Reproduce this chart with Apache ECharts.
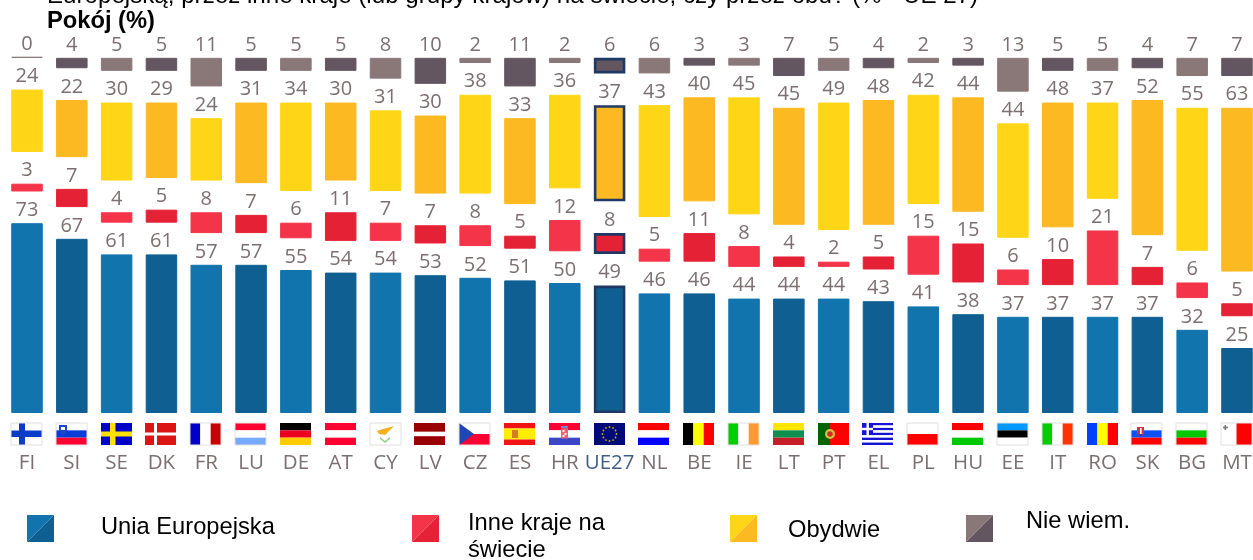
<!DOCTYPE html>
<html><head><meta charset="utf-8">
<style>html,body{margin:0;padding:0;background:#fff;overflow:hidden}#w{width:1253px;height:560px;overflow:hidden}#c{width:1270px;height:560px}</style>
<script src="https://cdn.jsdelivr.net/npm/echarts@6/dist/echarts.min.js"></script>
</head><body><div id="w"><div id="c"></div></div>
<script>
const categories = ['FI','SI','SE','DK','FR','LU','DE','AT','CY','LV','CZ','ES','HR','UE27','NL','BE','IE','LT','PT','EL','PL','HU','EE','IT','RO','SK','BG','MT'];
const uniaEuropejska = [73,67,61,61,57,57,55,54,54,53,52,51,50,49,46,46,44,44,44,43,41,38,37,37,37,37,32,25];
const inneKraje = [3,7,4,5,8,7,6,11,7,7,8,5,12,8,5,11,8,4,2,5,15,15,6,10,21,7,6,5];
const obydwie = [24,22,30,29,24,31,34,30,31,30,38,33,36,37,43,40,45,45,49,48,42,44,44,48,37,52,55,63];
const nieWiem = [0,4,5,5,11,5,5,5,8,10,2,11,2,6,6,3,3,7,5,4,2,3,13,5,5,4,7,7];
const highlighted = 'UE27';
const gapUnits = 12.2;

const topLine = 'Europejską, przez inne kraje (lub grupy krajów) na świecie, czy przez obu? (% - UE 27)';
const chartTitle = 'Pokój (%)';

const palette = {
  blue: ['#1174ad', '#0f5f92'],
  red: ['#f43449', '#e52135'],
  yellow: ['#ffd617', '#fcb922'],
  grey: ['#8a7879', '#635660']
};
const labelColor = '#7b6f71';
const navy = '#1f3864';

function hs(cols, ws) { // horizontal stripes
  const t = (ws || cols.map(() => 1)); const sum = t.reduce((a, b) => a + b, 0); let y = 0;
  return cols.map((c, i) => { const h = 22 * t[i] / sum; const r = ['r', 0, y, 31, h, c]; y += h; return r; });
}
function vs(cols, ws) { // vertical stripes
  const t = (ws || cols.map(() => 1)); const sum = t.reduce((a, b) => a + b, 0); let x = 0;
  return cols.map((c, i) => { const w = 31 * t[i] / sum; const r = ['r', x, 0, w, 22, c]; x += w; return r; });
}
const euStars = Array.from({length: 12}, (_, i) => ['c', 15.5 + 7 * Math.cos(i * Math.PI / 6), 11 + 7 * Math.sin(i * Math.PI / 6), 0.9, '#c8b400']);
const flagShapes = {
  FI: [['r',0,0,31,22,'#fff'],['r',8,0,6,22,'#0a3cc8'],['r',0,7.5,31,6.5,'#0a3cc8']],
  SI: hs(['#fff','#0a3cd8','#ff0033']).concat([['p',[[3,2],[11,2],[11,8],[7,12],[3,8]],'#1e46c8'],['r',5,4,4,3,'#fff']]),
  SE: [['r',0,0,31,22,'#0000c8'],['r',9,0,5.5,22,'#ffe000'],['r',0,8.5,31,5,'#ffe000']],
  DK: [['r',0,0,31,22,'#dc1414'],['r',9,0,3,22,'#fff'],['r',0,9.5,31,3,'#fff']],
  FR: vs(['#0000c8','#fff','#c80000']),
  LU: hs(['#ff0033','#fff','#77aaff']),
  DE: hs(['#000','#e8001e','#ffcc00']),
  AT: hs(['#ff0033','#fff','#ff0033']),
  CY: [['r',0,0,31,22,'#fff'],['p',[[7,8],[13,6],[24,3],[19,8],[15,12],[9,11]],'#f5b01e'],['p',[[10,14],[15,18],[20,14],[20,16],[15,20],[10,16]],'#8fd08f']],
  LV: hs(['#990000','#fff','#990000'],[2,1,2]),
  CZ: hs(['#fff','#ff0033']).concat([['p',[[0,0],[15,11],[0,22]],'#1e46b4']]),
  ES: hs(['#f01414','#ffee00','#f01414'],[1,2,1]).concat([['r',8,7,6,8,'#d87a28']]),
  HR: hs(['#ff0033','#fff','#3c46c8']).concat([['r',12,3,7,2.5,'#7a84c8'],['r',12,5.5,7,10,'#f06070'],['r',13.5,7,2,2,'#fff'],['r',15.5,10,2,2,'#fff'],['r',13.5,12,2,2,'#fff']]),
  UE27: [['r',0,0,31,22,'#000a78']].concat(euStars),
  NL: hs(['#ff0000','#fff','#0000ff']),
  BE: vs(['#000','#ffff00','#ff0000']),
  IE: vs(['#00cc00','#fff','#ff9933']),
  LT: hs(['#ffe600','#109050','#c81e28']),
  PT: [['r',0,0,31,22,'#ff0000'],['r',0,0,12,22,'#006400'],['c',12,11,5,'#d8c040'],['c',12,11,2.8,'#c83030']],
  EL: hs(['#1414d2','#fff','#1414d2','#fff','#1414d2','#fff','#1414d2','#fff','#1414d2']).concat([['r',0,0,11,12,'#1414d2'],['r',4.5,0,2.4,12,'#fff'],['r',0,4.8,11,2.4,'#fff']]),
  PL: hs(['#fff','#ff0000']),
  HU: hs(['#ff0000','#fff','#00c800']),
  EE: hs(['#0099ff','#000','#fff']),
  IT: vs(['#00cc00','#fff','#ff3300']),
  RO: vs(['#0040ff','#ffff00','#ff0000']),
  SK: hs(['#fff','#0a50ff','#ff0000']).concat([['p',[[6,4],[13,4],[13,11],[9.5,15],[6,11]],'#d8304a'],['p',[[7,11],[12,11],[9.5,14.5]],'#2040c0'],['r',9,5,1.6,6,'#fff']]),
  BG: hs(['#fff','#00c800','#ff0000']),
  MT: [['r',0,0,31,22,'#fff'],['r',15.5,0,15.5,22,'#ff0000'],['r',3.5,2,1.6,5,'#777'],['r',2,3.7,5,1.6,'#777']]
};
const whiteEdged = ['FI','SI','FR','CY','CZ','PL','EE','IT','SK','BG','MT','IE','LU'];

function barData(values, colors) {
  return values.map((v, i) => {
    const fill = colors[i % 2];
    const hl = categories[i] === highlighted;
    return {
      value: v,
      itemStyle: {
        color: fill,
        borderColor: hl ? navy : fill,
        borderWidth: hl ? 2.6 : 1,
        opacity: 1
      }
    };
  });
}
function part(name, values, colors) {
  return {
    name, type: 'bar', stack: 'total', barWidth: 31.5, barMinHeight: 1,
    data: barData(values, colors),
    label: { show: true, position: 'top', distance: 3, color: labelColor, fontFamily: 'Open Sans', fontSize: 20 }
  };
}
function spacer() {
  return {
    name: 'odstęp', type: 'bar', stack: 'total', barWidth: 31.5, silent: true,
    data: categories.map(() => gapUnits), itemStyle: { color: 'transparent' }, label: { show: false }
  };
}
const flagSeries = {
  type: 'custom', name: 'flagi', silent: true, clip: false,
  data: categories.map((c, i) => [i, 0]),
  encode: { x: 0, y: 1 },
  renderItem(params, api) {
    const p = api.coord([api.value(0), 0]);
    const code = categories[api.value(0)];
    const children = (flagShapes[code] || []).map(s => {
      if (s[0] === 'r') return { type: 'rect', shape: { x: s[1], y: s[2], width: s[3], height: s[4] }, style: { fill: s[5] } };
      if (s[0] === 'c') return { type: 'circle', shape: { cx: s[1], cy: s[2], r: s[3] }, style: { fill: s[4] } };
      return { type: 'polygon', shape: { points: s[1] }, style: { fill: s[2] } };
    });
    if (whiteEdged.includes(code)) children.push({ type: 'rect', shape: { x: 0, y: 0, width: 31, height: 22 }, style: { fill: 'none', stroke: '#e4dede', lineWidth: 1 } });
    return { type: 'group', x: Math.round(p[0]) - 16, y: p[1] + 10, children };
  }
};

function swatch(x, colors) {
  const y = 515, s = 27;
  return [
    { type: 'polygon', silent: true, shape: { points: [[x, y], [x + s, y], [x, y + s]] }, style: { fill: colors[0] } },
    { type: 'polygon', silent: true, shape: { points: [[x + s, y], [x + s, y + s], [x, y + s]] }, style: { fill: colors[1] } }
  ];
}
function legendText(text, x, y) {
  return { type: 'text', silent: true, x, y, style: { text, fill: '#000', fontFamily: 'Liberation Sans', fontSize: 23.7, verticalAlign: 'middle', lineHeight: 27 } };
}

const chart = echarts.init(document.getElementById('c'), null, { renderer: 'canvas' });
chart.setOption({
  animation: false,
  backgroundColor: '#fff',
  grid: { left: 4.6, top: 49, width: 1254.8, height: 364, containLabel: false },
  xAxis: {
    type: 'category', data: categories,
    axisLine: { show: false }, axisTick: { show: false }, splitLine: { show: false },
    axisLabel: {
      interval: 0, margin: 40, fontFamily: 'Open Sans', fontSize: 20.5,
      color: (v) => v === highlighted ? '#3f5f86' : labelColor
    }
  },
  yAxis: { type: 'value', min: 0, max: 140, show: false },
  series: [
    part('Unia Europejska', uniaEuropejska, palette.blue), spacer(),
    part('Inne kraje na świecie', inneKraje, palette.red), spacer(),
    part('Obydwie', obydwie, palette.yellow), spacer(),
    part('Nie wiem.', nieWiem, palette.grey),
    flagSeries
  ],
  graphic: [
    { type: 'text', silent: true, x: 47, y: -4, style: { text: topLine, fill: '#000', fontFamily: 'Liberation Sans', fontSize: 24.15, verticalAlign: 'middle' } },
    { type: 'text', silent: true, x: 47, y: 21, style: { text: chartTitle, fill: '#000', fontFamily: 'Liberation Sans', fontWeight: 'bold', fontSize: 23.7, verticalAlign: 'middle' } },
    ...swatch(27, palette.blue), legendText('Unia Europejska', 101, 527),
    ...swatch(412, palette.red), legendText('Inne kraje na\nświecie', 468, 537),
    ...swatch(730, palette.yellow), legendText('Obydwie', 788, 530),
    ...swatch(966, palette.grey), legendText('Nie wiem.', 1026, 521)
  ]
});
</script></body></html>
